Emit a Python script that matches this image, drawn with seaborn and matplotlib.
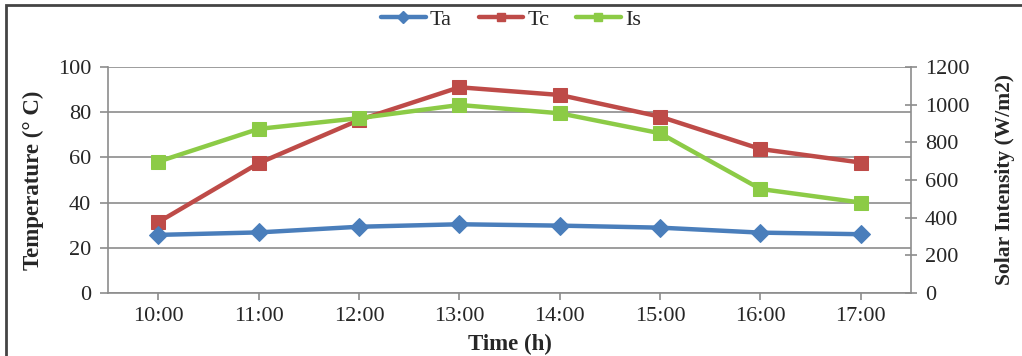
import numpy as np
import pandas as pd
import matplotlib
matplotlib.use("Agg")
import matplotlib.pyplot as plt
import seaborn as sns
from matplotlib.lines import Line2D
from matplotlib.patches import Rectangle

times = ["10:00", "11:00", "12:00", "13:00", "14:00", "15:00", "16:00", "17:00"]
ta = [25.7, 26.8, 29.3, 30.4, 29.8, 28.9, 26.7, 26.0]
tc = [31.3, 57.4, 76.5, 91.0, 87.6, 78.0, 63.7, 57.7]
is_vals = [697, 871, 928, 998, 954, 848, 552, 480]
left_ticks = [0, 20, 40, 60, 80, 100]
right_ticks = [0, 200, 400, 600, 800, 1000, 1200]

sns.set_theme(style="white")
plt.rcParams['font.family'] = ['Liberation Serif', 'DejaVu Serif']

c_ta = "#4A7EBB"
c_tc = "#BE4B48"
c_is = "#8CCB46"
grid_c = "#8C8C8C"

fig = plt.figure(figsize=(10.22, 3.56), dpi=100)
ax = fig.add_axes([0.1057, 0.177, 0.7857, 0.635])
ax2 = ax.twinx()

df = pd.DataFrame({"x": np.arange(len(times)), "Ta": ta, "Tc": tc, "Is": is_vals})

sns.lineplot(data=df, x="x", y="Ta", ax=ax, color=c_ta, lw=3.2, marker="D",
             markersize=9, markeredgecolor=c_ta, zorder=4)
sns.lineplot(data=df, x="x", y="Tc", ax=ax, color=c_tc, lw=3.2, marker="s",
             markersize=10, markeredgecolor=c_tc, zorder=3)
sns.lineplot(data=df, x="x", y="Is", ax=ax2, color=c_is, lw=3.2, marker="s",
             markersize=10, markeredgecolor=c_is, zorder=3)

ax.set_xlim(-0.5, len(times) - 0.5)
ax.set_ylim(0, 100)
ax2.set_ylim(0, 1200)
ax.set_yticks(left_ticks)
ax2.set_yticks(right_ticks)
ax.set_xticks(np.arange(len(times)))
ax.set_xticklabels(times)
ax.set_yticklabels([str(v) for v in left_ticks])
ax2.set_yticklabels([str(v) for v in right_ticks])

ax.yaxis.grid(True, color=grid_c, lw=1.2)
ax.set_axisbelow(True)
for a in (ax, ax2):
    for s in a.spines.values():
        s.set_visible(False)
ax.spines["left"].set_visible(True)
ax.spines["left"].set_color(grid_c)
ax.spines["left"].set_linewidth(1.2)
ax.spines["bottom"].set_visible(True)
ax.spines["bottom"].set_color(grid_c)
ax.spines["bottom"].set_linewidth(1.2)
ax2.spines["right"].set_visible(True)
ax2.spines["right"].set_color(grid_c)
ax2.spines["right"].set_linewidth(1.2)

ax.tick_params(axis="x", direction="out", length=5, width=1.2, color=grid_c,
               labelsize=16, pad=5, bottom=True)
ax.tick_params(axis="y", direction="out", length=6, width=1.2, color=grid_c,
               labelsize=16, pad=6, left=True)
ax2.tick_params(axis="y", direction="inout", length=8, width=1.2, color=grid_c,
                labelsize=16, pad=6, right=True)

ax.set_xlabel("Time (h)", fontsize=16.5, fontweight="bold")
ax.set_ylabel("Temperature (° C)", fontsize=16.5, fontweight="bold")
ax2.set_ylabel("Solar Intensity (W/m2)", fontsize=15.5, fontweight="bold")
ax.xaxis.set_label_coords(0.5, -0.18)
ax.yaxis.set_label_coords(-0.08, 0.5)
ax2.yaxis.set_label_coords(1.104, 0.5)

handles = [
    Line2D([], [], color=c_ta, lw=3.2, marker="D", markersize=6),
    Line2D([], [], color=c_tc, lw=3.2, marker="s", markersize=6),
    Line2D([], [], color=c_is, lw=3.2, marker="s", markersize=6),
]
fig.legend(handles, ["Ta", "Tc", "Is"], loc="center", bbox_to_anchor=(0.5, 0.945),
           ncol=3, frameon=False, fontsize=16, handlelength=2.0,
           handletextpad=0.2, columnspacing=1.2)

fig.add_artist(Rectangle((0.006, -0.05), 1.2, 1.036, transform=fig.transFigure,
                         fill=False, edgecolor="#444444", lw=2.0))

fig.savefig("out.png", dpi=100)
